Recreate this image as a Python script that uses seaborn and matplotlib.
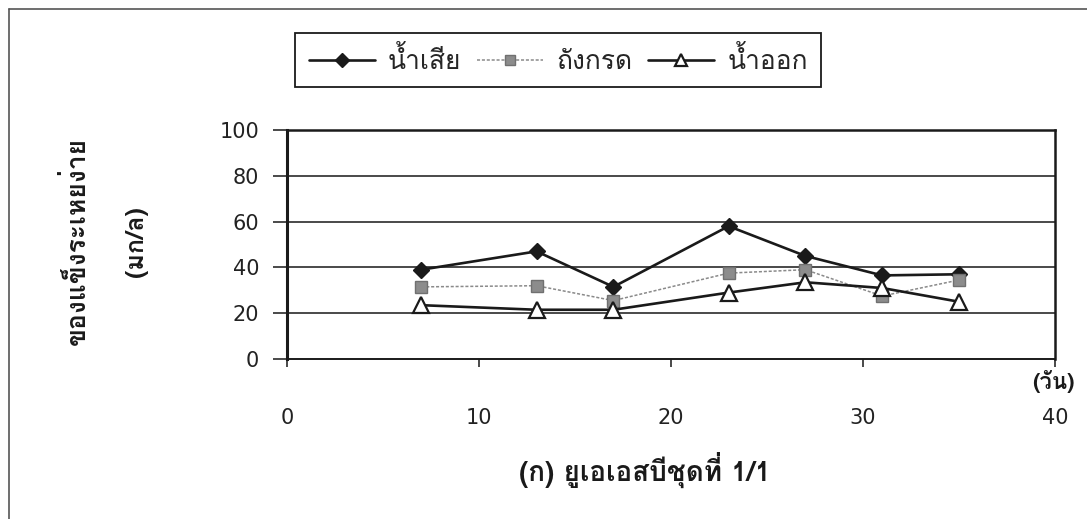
import matplotlib
matplotlib.use("Agg")
import matplotlib.pyplot as plt
from matplotlib.lines import Line2D
import pandas as pd
import seaborn as sns

# Sampling days and volatile solids (mg/L) for each sampling point
days = [7, 13, 17, 23, 27, 31, 35]
influent = [39, 47, 31.5, 58, 45, 36.5, 37]
acid_tank = [31.5, 32, 25.5, 37.5, 39, 27.5, 34.5]
effluent = [23.5, 21.5, 21.5, 29, 33.5, 31, 25]

series_names = ["น้ำเสีย", "ถังกรด", "น้ำออก"]
x_ticks = [0, 10, 20, 30, 40]
y_ticks = [0, 20, 40, 60, 80, 100]

sns.set_theme(style="white")
thai = ["Loma", "DejaVu Sans"]
plt.rcParams["font.family"] = ["DejaVu Sans"]

df = pd.DataFrame({
    "day": days * 3,
    "value": influent + acid_tank + effluent,
    "series": [series_names[0]] * 7 + [series_names[1]] * 7 + [series_names[2]] * 7,
})

fig = plt.figure(figsize=(10.87, 5.19), dpi=100)
ax = fig.add_axes([0.264, 0.3083, 0.7066, 0.4412])

styles = {
    series_names[0]: dict(color="#1a1a1a", lw=1.9, ls="-", marker="D", ms=8.5,
                          mfc="#1a1a1a", mec="#1a1a1a", mew=1.0),
    series_names[1]: dict(color="#8a8a8a", lw=1.1, ls=(0, (2, 1.2)), marker="s", ms=9,
                          mfc="#8c8c8c", mec="#707070", mew=1.0),
    series_names[2]: dict(color="#1a1a1a", lw=1.9, ls="-", marker="^", ms=11,
                          mfc="white", mec="#1a1a1a", mew=1.6),
}

handles = []
for name in series_names:
    st = styles[name]
    sub = df[df["series"] == name]
    sns.lineplot(data=sub, x="day", y="value", ax=ax, color=st["color"],
                 linewidth=st["lw"], linestyle=st["ls"], marker=st["marker"],
                 markersize=st["ms"], markerfacecolor=st["mfc"],
                 markeredgecolor=st["mec"], markeredgewidth=st["mew"],
                 legend=False, zorder=3)
    handles.append(Line2D([], [], color=st["color"], lw=st["lw"], ls=st["ls"],
                          marker=st["marker"], ms=st["ms"] * 0.85, mfc=st["mfc"],
                          mec=st["mec"], mew=st["mew"]))

ax.set_xlim(0, 40)
ax.set_ylim(0, 100)
ax.set_xticks(x_ticks)
ax.set_yticks(y_ticks)
ax.set_xlabel("")
ax.set_ylabel("")

for y in y_ticks[1:-1]:
    ax.axhline(y, color="#2a2a2a", lw=1.2, zorder=1)

for side in ["left", "top", "right", "bottom"]:
    ax.spines[side].set_visible(True)
    ax.spines[side].set_color("#1a1a1a")
ax.spines["left"].set_linewidth(2.2)
ax.spines["top"].set_linewidth(1.8)
ax.spines["right"].set_linewidth(1.8)
ax.spines["bottom"].set_linewidth(1.4)

ax.tick_params(axis="y", direction="out", length=10, width=1.2, color="#2a2a2a",
               pad=10, labelsize=15, labelcolor="#222222", left=True)
ax.tick_params(axis="x", direction="out", length=6, width=1.2, color="#2a2a2a",
               pad=29, labelsize=15, labelcolor="#222222", bottom=True)

# Axis titles
fig.text(0.070, 0.535, "ของแข็งระเหยง่าย", rotation=90, ha="center", va="center",
         fontsize=19, fontweight="bold", family=thai, color="#1a1a1a")
fig.text(0.126, 0.535, "(มก/ล)", rotation=90, ha="center", va="center",
         fontsize=18, fontweight="bold", family=thai, color="#1a1a1a")
fig.text(0.969, 0.264, "(วัน)", ha="center", va="center",
         fontsize=16, fontweight="bold", family=thai, color="#1a1a1a")
fig.text(0.593, 0.094, "(ก) ยูเอเอสบีชุดที่ 1/1", ha="center", va="center",
         fontsize=20, fontweight="bold", family=thai, color="#1a1a1a")

leg = ax.legend(handles, series_names, loc="center", bbox_to_anchor=(0.5135, 0.884),
                bbox_transform=fig.transFigure, ncol=3, frameon=True, fancybox=False,
                edgecolor="#1a1a1a", framealpha=1, handlelength=2.5, columnspacing=0.6,
                handletextpad=0.5, borderpad=0.5, prop={"family": thai, "size": 19})
leg.get_frame().set_linewidth(1.3)

# Outer chart frame
fig.add_artist(Line2D([0.0083, 0.0083], [0.0, 0.983], transform=fig.transFigure,
                      color="#555555", lw=1.2))
fig.add_artist(Line2D([0.0083, 1.0], [0.983, 0.983], transform=fig.transFigure,
                      color="#555555", lw=1.2))

fig.savefig("out.png", dpi=100, facecolor="white")
